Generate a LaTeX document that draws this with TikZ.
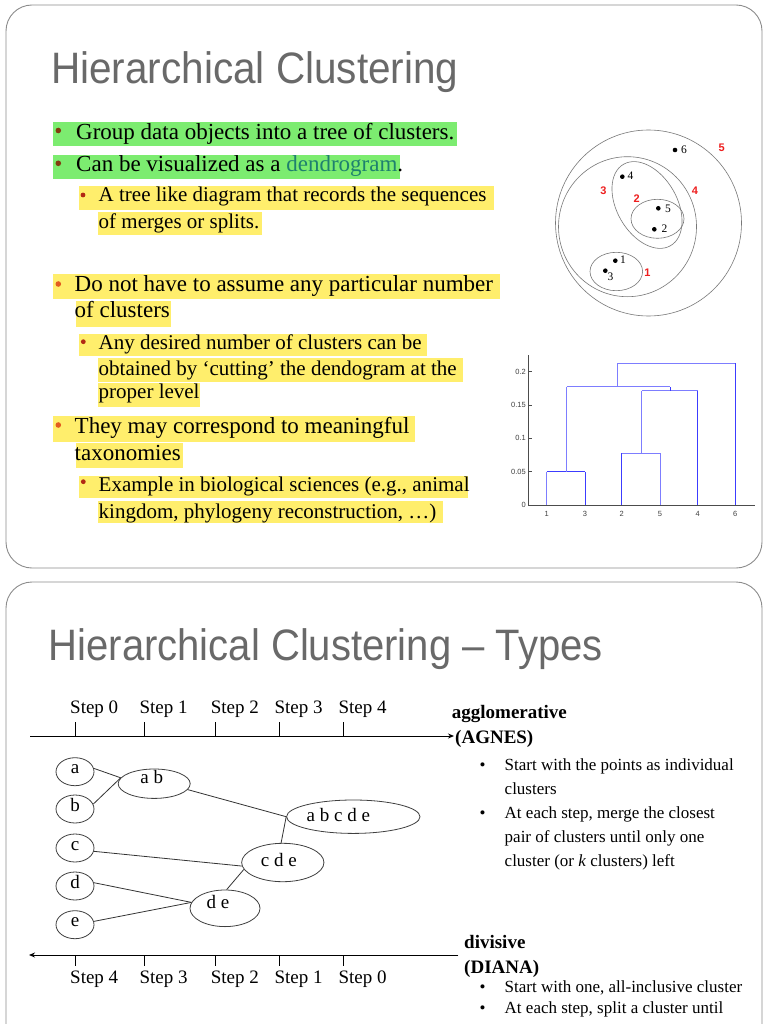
\documentclass[tikz,border=0pt]{standalone}
\usepackage{fontspec}
\usepackage{graphicx}
\setmainfont{Liberation Serif}
\newfontfamily\sansf{Liberation Sans}
\usetikzlibrary{shapes.geometric,arrows.meta}
\definecolor{hlgreen}{RGB}{124,236,112}
\definecolor{hlyellow}{RGB}{255,238,108}
\definecolor{bbrown}{RGB}{130,60,15}
\definecolor{borange}{RGB}{226,92,30}
\definecolor{bred}{RGB}{178,40,20}
\definecolor{tealword}{RGB}{30,128,110}
\definecolor{redlbl}{RGB}{238,30,30}
\definecolor{dlight}{RGB}{125,125,255}
\definecolor{ddark}{RGB}{60,60,255}
\definecolor{titlegray}{RGB}{105,105,105}
\definecolor{bordergray}{RGB}{140,140,140}
\definecolor{ptgray}{RGB}{120,120,120}
\newcommand\hlbox[5]{\fill[#1] (#2,-#3) rectangle (#4,-#5);}
\newcommand\elbl[3]{\smash{\raisebox{#2}{\makebox[0pt]{\kern#1#3\kern-#1}}}}
\tikzset{
  slideborder/.style={draw=bordergray, line width=0.9pt, rounded corners=26pt},
  ttl/.style={anchor=base west, inner sep=0pt, text=titlegray, font=\sansf\fontsize{44}{50}\selectfont},
  lone/.style={anchor=base west, inner sep=0pt, font=\fontsize{23}{27}\selectfont},
  ltwo/.style={anchor=base west, inner sep=0pt, font=\fontsize{21}{25}\selectfont},
  circ/.style={draw=ptgray, line width=0.6pt},
  ptnum/.style={anchor=west, inner sep=0pt, font=\fontsize{11.5}{12}\selectfont},
  rednum/.style={inner sep=0pt, text=redlbl, font=\sansf\bfseries\fontsize{11}{12}\selectfont},
  axlbl/.style={inner sep=0pt, text=black!75, font=\sansf\fontsize{7.5}{8}\selectfont},
  dl/.style={draw=dlight, line width=1pt},
  dk/.style={draw=ddark, line width=1pt},
  stepl/.style={anchor=base west, inner sep=0pt, font=\fontsize{19}{22}\selectfont},
  cl/.style={ellipse, draw=black!75, line width=0.8pt, inner sep=0pt, font=\fontsize{19}{22}\selectfont},
  conn/.style={draw=black!80, line width=0.8pt},
  axisln/.style={draw=black, line width=1pt},
  kind/.style={anchor=base west, inner sep=0pt, font=\bfseries\fontsize{19}{22}\selectfont},
  btxt/.style={anchor=base west, inner sep=0pt, font=\fontsize{17}{20}\selectfont},
  bdot/.style={anchor=base, inner sep=0pt, font=\fontsize{17}{20}\selectfont}
}
\begin{document}
\begin{tikzpicture}[x=1pt,y=1pt]
\useasboundingbox (0,0) rectangle (768,-1024);
\clip (0,0) rectangle (768,-1024);
\fill[white] (0,0) rectangle (768,-1024);

% ---------------- slide 1 ----------------
\draw[slideborder] (6,-5) rectangle (762,-568);
\node[ttl] (title1) at (51,-83.3) {\scalebox{0.92}[1]{Hierarchical Clustering}};

% highlights
\hlbox{hlgreen}{52.7}{121.7}{457}{146}
\hlbox{hlgreen}{52.7}{155}{400}{179.3}
\hlbox{hlyellow}{79}{186}{494}{210}
\hlbox{hlyellow}{97.7}{211.7}{261.7}{235}
\hlbox{hlyellow}{52.7}{274}{500}{299.3}
\hlbox{hlyellow}{75.7}{300.7}{170.7}{326.7}
\hlbox{hlyellow}{79}{334}{427}{355.7}
\hlbox{hlyellow}{97.7}{357.7}{462.7}{381.7}
\hlbox{hlyellow}{97.7}{383.3}{200}{406.7}
\hlbox{hlyellow}{52.7}{415.7}{415}{441.7}
\hlbox{hlyellow}{75.7}{443.3}{182.7}{468.3}
\hlbox{hlyellow}{79}{476}{468.3}{498.3}
\hlbox{hlyellow}{97.7}{500.7}{443.3}{523.3}

% bullets
\fill[bbrown] (58.3,-130.5) circle (2.8);
\fill[bbrown] (58.3,-163.3) circle (2.8);
\fill[bred] (83,-195) circle (2.4);
\fill[borange] (58.3,-284) circle (2.8);
\fill[bred] (83.3,-341.7) circle (2.4);
\fill[borange] (58.3,-425) circle (2.8);
\fill[bred] (83.3,-481.7) circle (2.4);

% text
\node[lone] (l1) at (76,-139.3) {Group data objects into a tree of clusters.};
\node[lone] (l2) at (76,-171.7) {Can be visualized as a \textcolor{tealword}{dendrogram}.};
\node[ltwo] (s1) at (98.5,-201.7) {A tree like diagram that records the sequences};
\node[ltwo] (s1b) at (98.5,-228.3) {of merges or splits.};
\node[lone] (l3) at (74.5,-291.7) {Do not have to assume any particular number};
\node[lone] (l3b) at (74.5,-317.3) {of clusters};
\node[ltwo] (s2) at (98.5,-349.3) {Any desired number of clusters can be};
\node[ltwo] (s2b) at (98.5,-375) {obtained by ‘cutting’ the dendogram at the};
\node[ltwo] (s2c) at (98.5,-398.3) {proper level};
\node[lone] (l4) at (74.5,-433.3) {They may correspond to meaningful};
\node[lone] (l4b) at (74.5,-460) {taxonomies};
\node[ltwo] (s3) at (98.5,-491.7) {Example in biological sciences (e.g., animal};
\node[ltwo] (s3b) at (98.5,-518.3) {kingdom, phylogeny reconstruction, …)};

% cluster picture
\draw[circ] (648.5,-223) circle (93);
\draw[circ] (627.5,-226.7) ellipse [x radius=69, y radius=70];
\draw[circ, rotate around={-60:(647,-205)}] (647,-205) ellipse [x radius=47, y radius=30];
\draw[circ] (657.5,-218.8) ellipse [x radius=26.5, y radius=19.5];
\draw[circ] (616.3,-271.5) ellipse [x radius=26.3, y radius=19.2];
\foreach \px/\py in {675/150, 622.3/176.7, 658.3/208.3, 654.3/229.3, 615.3/260.7, 605.3/270.7}
  \fill[black] (\px,-\py) circle (2.3);
\node[ptnum] (p6) at (681,-150) {6};
\node[ptnum] (p4) at (627.5,-176) {4};
\node[ptnum] (p5) at (665,-209) {5};
\node[ptnum] (p2) at (661.5,-228.5) {2};
\node[ptnum] (p1) at (620,-260) {1};
\node[ptnum] (p3) at (607.5,-276.5) {3};
\node[rednum] (r5) at (721.7,-147.3) {5};
\node[rednum] (r3) at (603.3,-190.7) {3};
\node[rednum] (r4) at (695,-190.7) {4};
\node[rednum] (r2) at (636.7,-198.7) {2};
\node[rednum] (r1) at (647.3,-272.7) {1};

% dendrogram
\draw[draw=black!70, line width=0.8pt] (528.3,-355) -- (528.3,-505) -- (755,-505);
\foreach \ty/\tl [count=\i] in {371.7/0.2, 405/0.15, 438.3/0.1, 471.7/0.05, 505/0} {
  \draw[draw=black!70, line width=0.6pt] (528.3,-\ty) -- (531.5,-\ty);
  \node[axlbl, anchor=east] (yl\i) at (526,-\ty) {\tl};
}
\foreach \lx/\ll [count=\i] in {546.7/1, 585/3, 621.7/2, 660/5, 697.7/4, 735.3/6}
  \node[axlbl] (xl\i) at (\lx,-513.5) {\ll};
\draw[dl] (546.7,-505) -- (546.7,-471.7);
\draw[dk] (546.7,-471.7) -- (585,-471.7);
\draw[dk] (585,-505) -- (585,-471.7);
\draw[dk] (621.7,-505) -- (621.7,-453.3);
\draw[dl] (621.7,-453.3) -- (660,-453.3);
\draw[dl] (660,-505) -- (660,-453.3);
\draw[dl] (641.7,-453.3) -- (641.7,-390.7);
\draw[dl] (641.7,-390.7) -- (697.7,-390.7);
\draw[dk] (697.7,-505) -- (697.7,-390.7);
\draw[dl] (566.7,-471.7) -- (566.7,-386.7);
\draw[dl] (566.7,-386.7) -- (670,-386.7);
\draw[dk] (670,-390.7) -- (670,-386.7);
\draw[dl] (617.3,-386.7) -- (617.3,-363.3);
\draw[dl] (617.3,-363.3) -- (735.3,-363.3);
\draw[dk] (735.3,-505) -- (735.3,-363.3);

% ---------------- slide 2 ----------------
\draw[slideborder] (6,-1060) -- (6,-582) -- (762,-582) -- (762,-1060);
\node[ttl] (title2) at (48.5,-660) {\scalebox{0.91}[1]{Hierarchical Clustering – Types}};

% top axis
\coordinate (tstart) at (30,-736);
\coordinate (tend) at (454,-736);
\draw[axisln, -{Stealth[length=6pt,width=5pt]}] (tstart) -- (tend);
\foreach \tx/\tn [count=\i] in {75/0, 144.3/1, 215.7/2, 279.3/3, 343.3/4} {
  \draw[draw=black, line width=0.8pt] (\tx,-736) -- (\tx,-721.7);
  \node[stepl] (tstep\i) at (\tx-5,-713) {Step \tn};
}
% bottom axis
\coordinate (bstart) at (458.3,-955);
\coordinate (bend) at (29,-955);
\draw[axisln, -{Stealth[length=6pt,width=5pt]}] (bstart) -- (bend);
\foreach \tx/\tn [count=\i] in {75/4, 144.3/3, 215.7/2, 279.3/1, 343.3/0} {
  \draw[draw=black, line width=0.8pt] (\tx,-955) -- (\tx,-965.7);
  \node[stepl] (bstep\i) at (\tx-5,-983.3) {Step \tn};
}

% cluster nodes
\node[cl, minimum width=38pt, minimum height=28pt] (a) at (75,-771.7) {\elbl{0pt}{-2pt}{a}};
\node[cl, minimum width=38pt, minimum height=28pt] (b) at (75,-809) {\elbl{0pt}{-2pt}{b}};
\node[cl, minimum width=38pt, minimum height=28pt] (c) at (75,-848) {\elbl{0pt}{-2pt}{c}};
\node[cl, minimum width=38pt, minimum height=28pt] (d) at (75,-886) {\elbl{0pt}{-2pt}{d}};
\node[cl, minimum width=38pt, minimum height=28pt] (e) at (75,-924.7) {\elbl{0pt}{-2pt}{e}};
\node[cl, minimum width=72pt, minimum height=29.4pt] (ab) at (154.2,-783.7) {\elbl{-2.5pt}{0pt}{a b}};
\node[cl, minimum width=133.4pt, minimum height=33.4pt] (abcde) at (353.3,-816.7) {\elbl{-15pt}{-5pt}{a b c d e}};
\node[cl, minimum width=82.3pt, minimum height=38.4pt] (cde) at (282.8,-862.5) {\elbl{-4pt}{-4pt}{c d e}};
\node[cl, minimum width=70pt, minimum height=36.6pt] (de) at (225,-908.3) {\elbl{-7pt}{0pt}{d e}};

\draw[conn] (a.10) -- (ab.170);
\draw[conn] (b.15) -- (ab.170);
\draw[conn] (ab.-10) -- (abcde.west);
\draw[conn] (c.-10) -- (cde.185);
\draw[conn] (cde.95) -- (abcde.west);
\draw[conn] (d.10) -- (de.170);
\draw[conn] (e.10) -- (de.170);
\draw[conn] (de.85) -- (cde.190);

% right texts
\node[kind] (agg) at (451.7,-718.3) {agglomerative};
\node[kind] (agnes) at (455,-743.3) {(AGNES)};
\node[bdot] (ad1) at (482.7,-770) {•};
\node[btxt] (at1) at (504.5,-770) {Start with the points as individual};
\node[btxt] (at1b) at (504.5,-794) {clusters};
\node[bdot] (ad2) at (482.7,-818.3) {•};
\node[btxt] (at2) at (504.5,-818.3) {At each step, merge the closest};
\node[btxt] (at2b) at (504.5,-842.7) {pair of clusters until only one};
\node[btxt] (at2c) at (504.5,-866.7) {cluster (or \textit{k} clusters) left};

\node[kind] (div) at (464,-948.3) {divisive};
\node[kind] (diana) at (464,-973.3) {(DIANA)};
\node[bdot] (dd1) at (482.7,-992.5) {•};
\node[btxt] (dt1) at (504.5,-992.5) {Start with one, all-inclusive cluster};
\node[bdot] (dd2) at (482.7,-1013.5) {•};
\node[btxt] (dt2) at (504.5,-1013.5) {At each step, split a cluster until};
\end{tikzpicture}
\end{document}
